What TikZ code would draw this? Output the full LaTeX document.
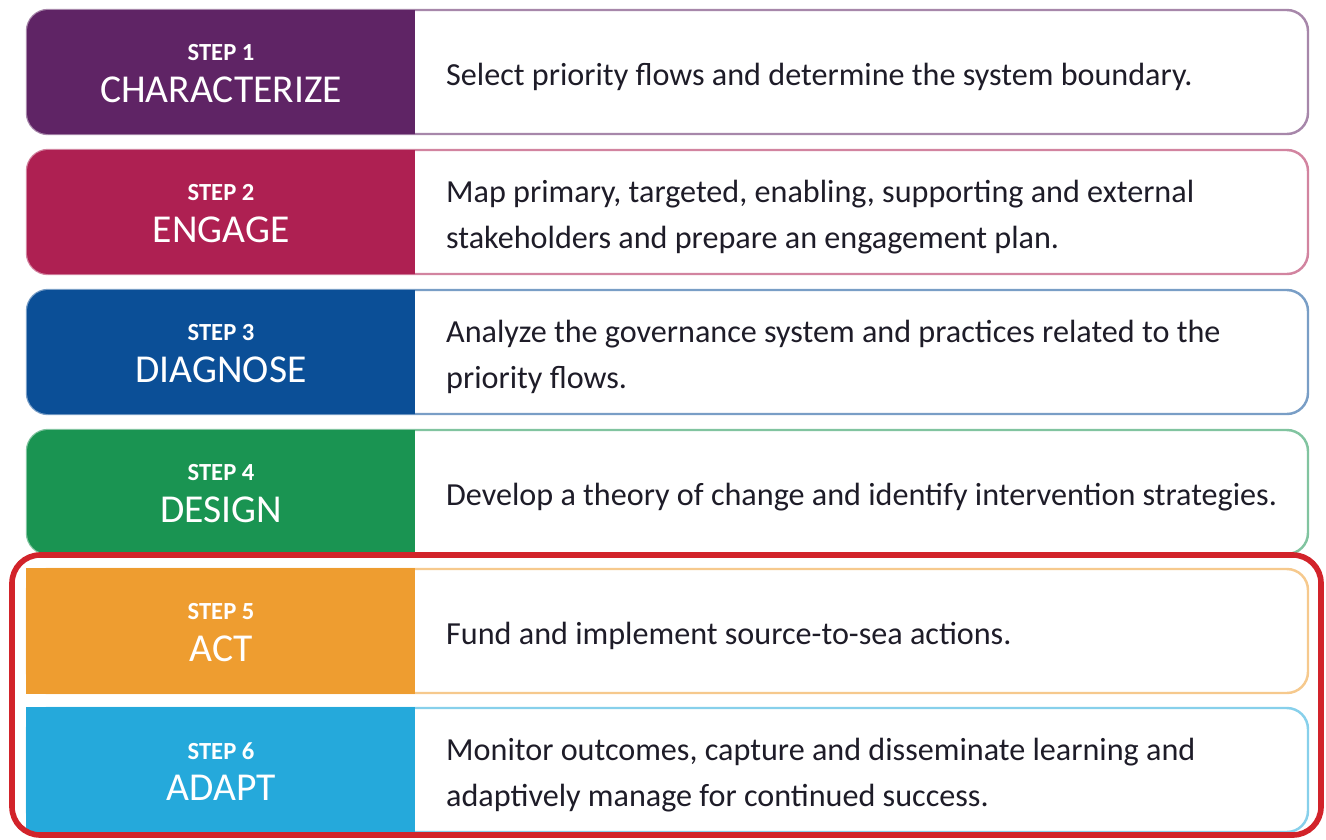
\documentclass[tikz,border=0pt]{standalone}
\usepackage{fontspec}
\setmainfont{Carlito}
\definecolor{purp}{RGB}{95,36,101}
\definecolor{mage}{RGB}{174,32,82}
\definecolor{navy}{RGB}{11,79,151}
\definecolor{gree}{RGB}{26,148,82}
\definecolor{oran}{RGB}{238,157,48}
\definecolor{cyan}{RGB}{37,169,219}
\definecolor{frame}{RGB}{210,35,42}
\definecolor{ink}{RGB}{30,28,40}
\begin{document}
\begin{tikzpicture}[x=0.02cm, y=-0.02cm,
  rowbox/.style={draw=#1!55, line width=1.4pt, fill=white, rounded corners=12pt},
  stepno/.style={text=white, font=\fontsize{14}{16}\selectfont\bfseries},
  stepname/.style={text=white, font=\fontsize{22.5}{26}\selectfont},
  desc/.style={text=ink, anchor=west, align=left, font=\fontsize{18.3}{26.5}\selectfont}]
  \useasboundingbox (0,0) rectangle (1326,839);
  % the steps
  \foreach \n/\y/\col/\name/\txt in {
    1/10/purp/CHARACTERIZE/{Select priority flows and determine the system boundary.},
    2/150/mage/ENGAGE/{Map primary, targeted, enabling, supporting and external\\stakeholders and prepare an engagement plan.},
    3/290/navy/DIAGNOSE/{Analyze the governance system and practices related to the\\priority flows.},
    4/430/gree/DESIGN/{Develop a theory of change and identify intervention strategies.},
    5/569/oran/ACT/{Fund and implement source-to-sea actions.},
    6/708/cyan/ADAPT/{Monitor outcomes, capture and disseminate learning and\\adaptively manage for continued success.}} {
    \path[rowbox=\col] (27,\y) rectangle (1308,\y+124);
    \begin{scope}
      \clip[rounded corners=12pt] (27,\y) rectangle (1308,\y+124);
      \fill[\col] (25,\y-2) rectangle (415,\y+126);
    \end{scope}
    \ifnum\n>4 \fill[\col] (25.5,\y-0.7) rectangle (415,\y+124.7); \fi
    \node[stepno] (step\n) at (221,\y+43) {STEP \n};
    \node[stepname] (name\n) at (221,\y+80) {\name};
    \node[desc] (desc\n) at (440,\y+67) {\txt};
  }
  % steps 5 and 6 highlighted
  \draw[frame, line width=3.2pt, rounded corners=16pt] (12,555) rectangle (1321,835);
\end{tikzpicture}
\end{document}
